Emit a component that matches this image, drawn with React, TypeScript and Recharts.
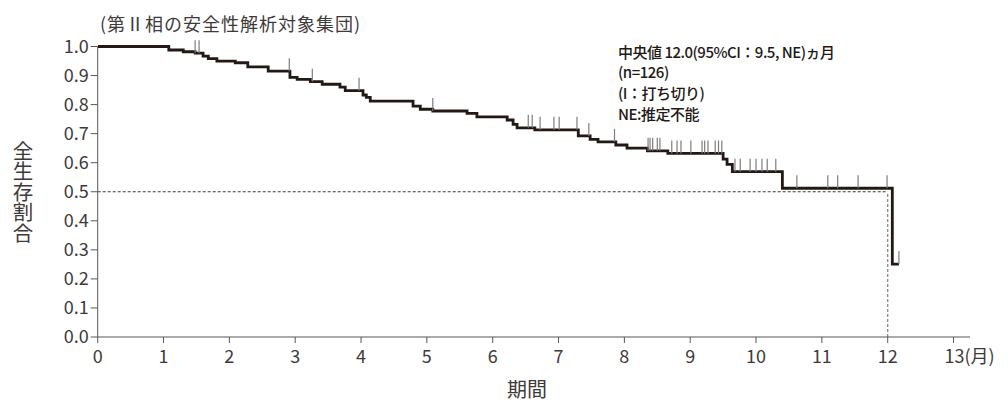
import React from 'react';
import { ComposedChart, Line, Scatter, XAxis, YAxis, ReferenceLine } from 'recharts';

// Kaplan-Meier step curve (months, survival)
const stepTimes = [0, 1.08, 1.30, 1.48, 1.60, 1.68, 1.81, 2.09, 2.28, 2.59, 2.92, 3.03, 3.23, 3.41, 3.68, 3.76, 4.03, 4.08, 4.14, 4.79, 4.90, 5.09, 5.61, 5.76, 6.22, 6.31, 6.37, 6.64, 7.30, 7.48, 7.60, 7.87, 8.04, 8.35, 8.66, 9.50, 9.56, 9.64, 10.40, 12.07, 12.17];
const stepSurvival = [1.0, 0.988, 0.982, 0.977, 0.967, 0.958, 0.950, 0.944, 0.930, 0.915, 0.894, 0.887, 0.879, 0.870, 0.860, 0.848, 0.833, 0.825, 0.812, 0.795, 0.784, 0.778, 0.770, 0.758, 0.747, 0.732, 0.720, 0.713, 0.692, 0.680, 0.672, 0.661, 0.650, 0.641, 0.632, 0.612, 0.594, 0.569, 0.512, 0.251, 0.251];

// censored observations (months)
const censorTimes = [1.48, 1.54, 2.91, 3.26, 3.97, 5.09, 6.54, 6.60, 6.72, 6.93, 7.01, 7.28, 7.46, 7.85, 8.36, 8.39, 8.43, 8.50, 8.54, 8.72, 8.80, 8.86, 9.01, 9.18, 9.22, 9.27, 9.38, 9.43, 9.48, 9.68, 9.76, 9.91, 10.00, 10.09, 10.17, 10.30, 10.62, 11.09, 11.24, 11.55, 11.99, 12.17];

const xTicks = [0, 1, 2, 3, 4, 5, 6, 7, 8, 9, 10, 11, 12, 13];
const yTicks = [0, 0.1, 0.2, 0.3, 0.4, 0.5, 0.6, 0.7, 0.8, 0.9, 1.0];

const medianMonths = 12.0;

const title = '(第Ⅱ相の安全性解析対象集団)';
const noteLines = ['中央値 12.0(95%CI：9.5, NE)ヵ月', '(n=126)', '(I：打ち切り)', 'NE:推定不能'];
const yLabel = '全生存割合';
const xLabel = '期間';

const FONT = "'Noto Sans CJK JP', 'Noto Sans', sans-serif";
const TEXT = '#3e3a39';
const AXIS = '#595757';

const kmData = stepTimes.map((t, i) => ({ t, s: stepSurvival[i] }));

function survAt(t: number) {
  let s = stepSurvival[0];
  for (let i = 0; i < stepTimes.length; i++) {
    if (stepTimes[i] <= t) s = stepSurvival[i];
  }
  return s;
}
const censorData = censorTimes.map((t) => ({ t, s: survAt(t) }));

const XTick = (props: any) => {
  const { x, y, payload } = props;
  if (payload.value === 13) {
    return (
      <text x={x - 9} y={y} dy={18} textAnchor="start" fontSize={18} fill={TEXT} fontFamily={FONT}>
        13(月)
      </text>
    );
  }
  return (
    <text x={x} y={y} dy={18} textAnchor="middle" fontSize={18} fill={TEXT} fontFamily={FONT}>
      {payload.value}
    </text>
  );
};

const CensorMark = (props: any) => {
  const { cx, cy } = props;
  return <line x1={cx} x2={cx} y1={cy} y2={cy - 13} stroke="#7d7d7d" strokeWidth={1.2} />;
};

export default function App() {
  return (
    <div style={{ position: 'absolute', left: 0, top: 0, width: 1008, height: 403, background: '#fff' }}>
      <ComposedChart width={1008} height={403} margin={{ top: 46.5, right: 38, left: 37.7, bottom: 26 }}>
        <XAxis
          type="number"
          dataKey="t"
          domain={[0, 13.25]}
          ticks={xTicks}
          allowDataOverflow
          height={40}
          tickSize={6}
          tickMargin={2}
          stroke={AXIS}
          tick={<XTick />}
        />
        <YAxis
          type="number"
          domain={[0, 1]}
          ticks={yTicks}
          width={60}
          tickSize={7}
          tickMargin={2}
          stroke={AXIS}
          tickFormatter={(v: number) => v.toFixed(1)}
          tick={{ fontSize: 18, fill: TEXT, fontFamily: FONT }}
        />
        <ReferenceLine
          segment={[{ x: 0, y: 0.5 }, { x: medianMonths, y: 0.5 }]}
          stroke="#3e3a39"
          strokeWidth={1}
          strokeDasharray="3 2"
        />
        <ReferenceLine
          segment={[{ x: medianMonths, y: 0 }, { x: medianMonths, y: 0.5 }]}
          stroke="#8a8a8a"
          strokeWidth={1.3}
          strokeDasharray="3 2"
        />
        <Scatter data={censorData} dataKey="s" shape={<CensorMark />} isAnimationActive={false} />
        <Line
          data={kmData}
          dataKey="s"
          type="stepAfter"
          stroke="#231815"
          strokeWidth={2.8}
          dot={false}
          activeDot={false}
          isAnimationActive={false}
        />
      </ComposedChart>
      <svg
        width={1008}
        height={403}
        style={{ position: 'absolute', left: 0, top: 0, pointerEvents: 'none' }}
        fontFamily={FONT}
      >
        <text x={100} y={23} dominantBaseline="central" fontSize={18} letterSpacing={1} fill={TEXT}>
          {title}
        </text>
        {noteLines.map((line, i) => (
          <text
            key={i}
            x={618}
            y={51 + i * 20.7}
            dominantBaseline="central"
            fontSize={15}
            letterSpacing={-0.5}
            fontWeight={500}
            fill="#231815"
          >
            {line}
          </text>
        ))}
        <text
          x={23}
          y={192}
          textAnchor="middle"
          fontSize={20.5}
          fill={TEXT}
          style={{ writingMode: 'vertical-rl' }}
        >
          {yLabel}
        </text>
        <text x={527} y={388} dominantBaseline="central" textAnchor="middle" fontSize={20} fill={TEXT}>
          {xLabel}
        </text>
      </svg>
    </div>
  );
}
